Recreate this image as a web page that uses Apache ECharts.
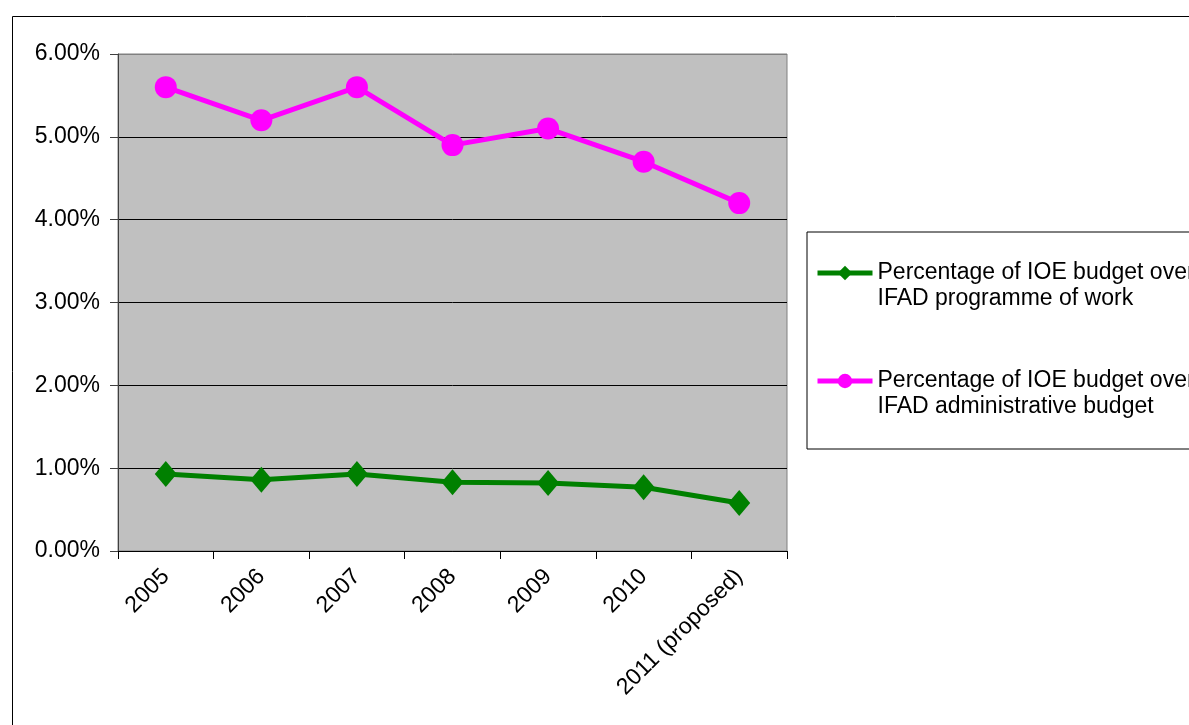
<!DOCTYPE html>
<html>
<head>
<meta charset="utf-8">
<script src="https://cdn.jsdelivr.net/npm/echarts@6/dist/echarts.min.js"></script>
<style>
  html, body { margin: 0; padding: 0; background: #fff; }
  #chart { width: 1189px; height: 725px; }
</style>
</head>
<body>
<div id="chart"></div>
<script>
const years = ['2005', '2006', '2007', '2008', '2009', '2010', '2011 (proposed)'];
const programmeOfWork = [0.93, 0.86, 0.93, 0.83, 0.82, 0.77, 0.58];
const adminBudget = [5.6, 5.2, 5.6, 4.9, 5.1, 4.7, 4.2];
const yTicks = [0, 1, 2, 3, 4, 5, 6];

const nameProgramme = 'Percentage of IOE budget over\nIFAD programme of work';
const nameAdmin = 'Percentage of IOE budget over\nIFAD administrative budget';

const font = '"Liberation Sans", Arial, sans-serif';

const chart = echarts.init(document.getElementById('chart'), null, { renderer: 'canvas' });

// top gridline is the plot border (grey), the others are dark
const splitColors = yTicks.map((t, i) => i === yTicks.length - 1 ? '#808080' : '#000');

chart.setOption({
    animation: false,
    textStyle: { fontFamily: font, color: '#000' },
    graphic: [
        {
            type: 'rect',
            left: 10, top: 14,
            shape: { width: 1300, height: 900 },
            style: { fill: 'none', stroke: '#000', lineWidth: 1 },
            silent: true,
            z: -1
        }
    ],
    grid: {
        left: 118, top: 54, right: 402, bottom: 174,
        show: true,
        backgroundColor: '#c0c0c0',
        borderColor: '#808080',
        borderWidth: 1
    },
    legend: {
        orient: 'vertical',
        left: 807, top: 232,
        padding: [2, 400, 29, 8],
        itemGap: 30,
        itemWidth: 55,
        itemHeight: 18,
        borderColor: '#000',
        borderWidth: 1,
        backgroundColor: '#fff',
        lineStyle: { width: 5 },
        formatter: name => '\n' + name,
        textStyle: {
            fontFamily: font, fontSize: 23, color: '#000',
            lineHeight: 26
        },
        data: [nameProgramme, nameAdmin]
    },
    xAxis: {
        type: 'category',
        data: years,
        boundaryGap: true,
        axisLine: { lineStyle: { color: '#000', width: 1 } },
        axisTick: { show: true, length: 8, alignWithLabel: false, lineStyle: { color: '#000' } },
        axisLabel: {
            rotate: 45, margin: 22, interval: 0,
            fontFamily: font, fontSize: 23, color: '#000'
        },
        splitLine: { show: false }
    },
    yAxis: {
        type: 'value',
        min: yTicks[0],
        max: yTicks[yTicks.length - 1],
        interval: 1,
        axisLine: { show: true, lineStyle: { color: '#404040', width: 1 } },
        axisTick: { show: true, length: 8, lineStyle: { color: '#404040' } },
        axisLabel: {
            margin: 18,
            fontFamily: font, fontSize: 23, color: '#000',
            formatter: v => v.toFixed(2) + '%'
        },
        splitLine: { show: true, lineStyle: { color: splitColors, width: 1 } }
    },
    series: [
        {
            name: nameProgramme,
            type: 'line',
            data: programmeOfWork,
            symbol: 'diamond',
            symbolSize: [22, 26],
            itemStyle: { color: '#008000' },
            lineStyle: { color: '#008000', width: 5 }
        },
        {
            name: nameAdmin,
            type: 'line',
            data: adminBudget,
            symbol: 'circle',
            symbolSize: 22,
            itemStyle: { color: '#ff00ff' },
            lineStyle: { color: '#ff00ff', width: 5 }
        }
    ]
});

window.addEventListener('resize', () => chart.resize());
</script>
</body>
</html>
